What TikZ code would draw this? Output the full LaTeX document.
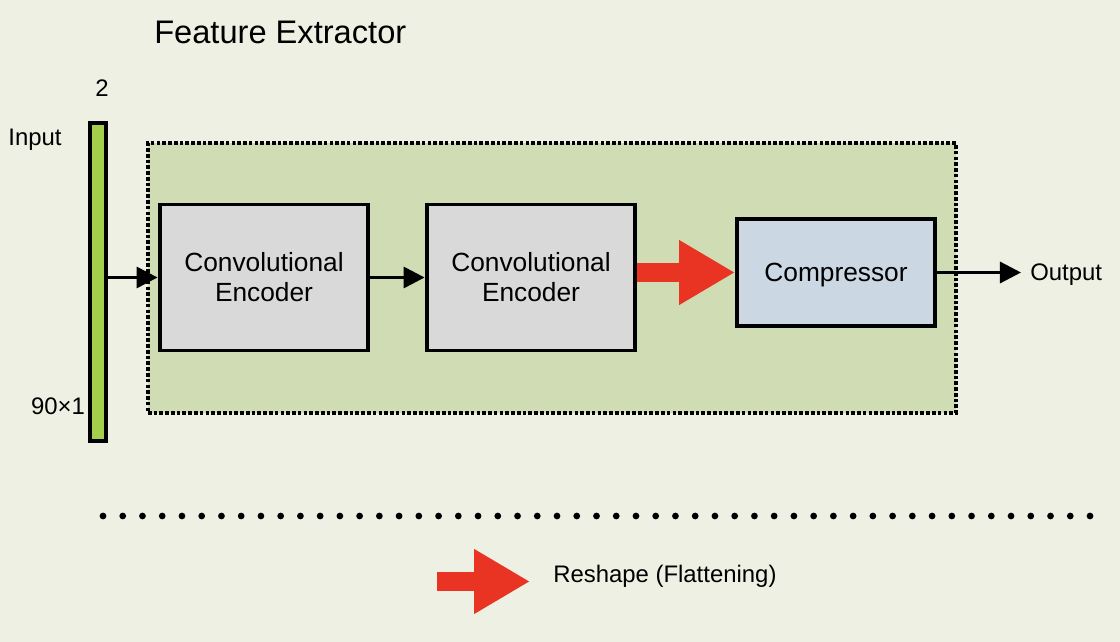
\documentclass[tikz,border=0pt]{standalone}
\usepackage{fontspec}
\setmainfont{Liberation Sans}
\usepackage{tikz}
\usetikzlibrary{arrows.meta,calc}

\definecolor{paper}{RGB}{237,240,226}
\definecolor{extractgreen}{RGB}{207,220,180}
\definecolor{inputgreen}{RGB}{165,206,74}
\definecolor{encgray}{RGB}{217,217,217}
\definecolor{compblue}{RGB}{204,215,228}
\definecolor{reshapered}{RGB}{233,51,35}

\tikzset{
  block/.style={draw, line width=2.8pt, fill=encgray, minimum width=5.22cm, minimum height=3.65cm, align=center, font=\fontsize{18.7}{21.3}\selectfont},
  flow/.style={-{Triangle[length=15pt,width=15pt]}, line width=2.3pt},
  reshape/.style={-{Triangle[length=39.7pt,width=43.2pt]}, line width=13.5pt, draw=reshapered},
  tag/.style={font=\fontsize{17}{20}\selectfont, inner sep=0pt}
}

\begin{document}
\begin{tikzpicture}[x=0.025cm, y=-0.025cm]
        % Background
        \fill[paper] (0,0) rectangle (1120,642);
        \useasboundingbox (0,0) rectangle (1120,642);

        % Title
        \node[anchor=west, inner sep=0pt, font=\fontsize{23.2}{26}\selectfont] (title) at (154,32) {Feature Extractor};

        % Input vector
        \node[draw, line width=2.8pt, fill=inputgreen, minimum width=0.4cm, minimum height=7.95cm, inner sep=0pt] (input) at (98,282) {};
        \node[tag] (width) at (102,88) {2};
        \node[tag] (inlabel) at (35,140) {Input};
        \node[tag] (length) at (58,406) {90×1};

        % Feature extractor
        \node[draw, line width=2.6pt, dash pattern=on 2.6pt off 1.5pt, fill=extractgreen, minimum width=20.2cm, minimum height=6.74cm] (extractor) at (552,278) {};
        \node[block] (enc1) at (264,277.5) {Convolutional\\Encoder};
        \node[block] (enc2) at (531,277.5) {Convolutional\\Encoder};
        \node[block, fill=compblue, minimum width=4.95cm, minimum height=2.68cm, text depth=0pt] (comp) at (836,272.5) {Compressor};

        \coordinate (out) at (1021,272.5);
        \node[tag, anchor=west, text depth=0pt] (outlabel) at (1030,272.5) {Output};

        \draw[flow] (input.east |- enc1.west) -- (enc1.west);
        \draw[flow] (enc1) -- (enc2);
        \draw[reshape] (enc2.east |- comp.west) -- (comp.west);
        \draw[flow] (comp) -- (out);

        % Separator
        \foreach \i in {0,...,50}
            \fill (103+\i*19.74,516) circle (2.4pt);

        % Legend
        \coordinate (leg-a) at (437,581.5);
        \coordinate (leg-b) at (530,581.5);
        \draw[reshape] (leg-a) -- (leg-b);
        \node[tag, anchor=west] (leglabel) at (553,576.5) {Reshape (Flattening)};
    \end{tikzpicture}
\end{document}
